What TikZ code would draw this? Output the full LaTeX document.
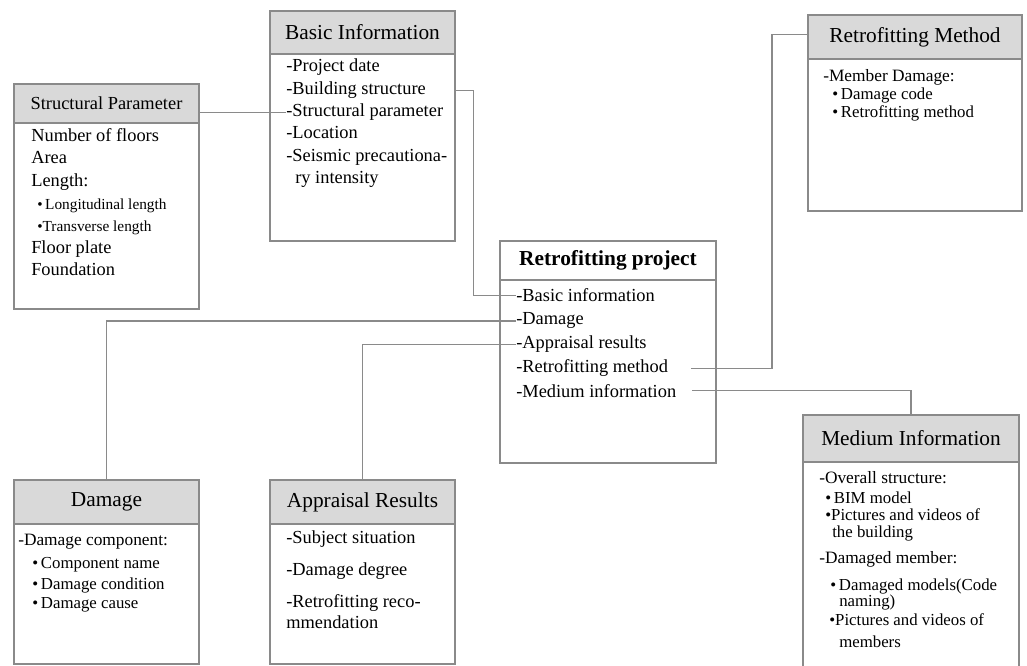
\documentclass[tikz,border=0pt]{standalone}
\usepackage{fontspec}
\setmainfont{Liberation Serif}
\usetikzlibrary{fit}
\definecolor{bordc}{HTML}{8A8A8A}
\definecolor{hdrc}{HTML}{D9D9D9}
\newcommand{\fcolon}{:\hspace{0.45em}}
\begin{document}
\begin{tikzpicture}[x=0.75pt,y=-0.75pt,
  frame/.style={draw=bordc, line width=0.9pt, inner sep=0pt},
  hdr/.style={frame, fill=hdrc},
  ttl/.style={inner sep=0pt, font=\fontsize{16}{19}\selectfont},
  conn/.style={draw=bordc, line width=0.9pt},
  txt/.style={anchor=base west, inner sep=0pt, font=\fontsize{13.8}{16}\selectfont},
  txtb/.style={txt, font=\fontsize{13}{15}\selectfont},
  sm/.style={txt, font=\fontsize{11.5}{14}\selectfont},
  bl/.style={txt, font=\fontsize{12.6}{15}\selectfont}]
\clip (0,0) rectangle (1027,666);
\fill[white] (0,0) rectangle (1027,666);

% Structural Parameter
\node[frame, fit={(14,84)(199,309)}] (sp) {};
\node[hdr, fit={(14,84)(199,123)}] (sph) {};
\node[ttl, font=\fontsize{13.8}{16}\selectfont] (spt) at (sph.center) {Structural Parameter};
\node[txt] (sp1) at (31,142) {Number of floors};
\node[txt] (sp2) at (31,164) {Area};
\node[txt] (sp3) at (31,187) {Length\fcolon};
\node[sm] (sp4) at (37,210) {\textbullet\,Longitudinal length};
\node[sm] (sp5) at (37,232) {\textbullet Transverse length};
\node[txt] (sp6) at (31,254) {Floor plate};
\node[txt] (sp7) at (31,276) {Foundation};

% Basic Information
\node[frame, fit={(270,11)(455,241)}] (bi) {};
\node[hdr, fit={(270,11)(455,54)}] (bih) {};
\node[ttl] (bit) at (bih.center) {Basic Information};
\node[txt] (bi1) at (286,72) {-Project date};
\node[txt] (bi2) at (286,95) {-Building structure};
\node[txt] (bi3) at (286,117) {-Structural parameter};
\node[txt] (bi4) at (286,139) {-Location};
\node[txt] (bi5) at (286,162) {-Seismic precautiona-};
\node[txt] (bi6) at (295,184) {ry intensity};

% Retrofitting project
\node[frame, fit={(500,241)(716,463)}] (rp) {};
\node[frame, fit={(500,241)(716,280)}] (rph) {};
\node[ttl, font=\bfseries\fontsize{16}{19}\selectfont] (rpt) at (rph.center) {Retrofitting project};
\node[txt] (rp1) at (516,302) {-Basic information};
\node[txt] (rp2) at (516,325) {-Damage};
\node[txt] (rp3) at (516,349) {-Appraisal results};
\node[txt] (rp4) at (516,373) {-Retrofitting method};
\node[txt] (rp5) at (516,397) {-Medium information};

% Retrofitting Method
\node[frame, fit={(808,15)(1022,211)}] (rm) {};
\node[hdr, fit={(808,15)(1022,59)}] (rmh) {};
\node[ttl] (rmt) at (rmh.center) {Retrofitting Method};
\node[txtb] (rm1) at (823,82) {-Member Damage\fcolon};
\node[bl] (rm2) at (832,100) {\textbullet\,Damage code};
\node[bl] (rm3) at (832,118) {\textbullet\,Retrofitting method};

% Damage
\node[frame, fit={(14,480)(199,664)}] (dm) {};
\node[hdr, fit={(14,480)(199,524)}] (dmh) {};
\node[ttl] (dmt) at (dmh.center) {Damage};
\node[txtb] (dm1) at (18,545) {-Damage component\fcolon};
\node[bl] (dm2) at (32,568) {\textbullet\,Component name};
\node[bl] (dm3) at (32,589) {\textbullet\,Damage condition};
\node[bl] (dm4) at (32,608) {\textbullet\,Damage cause};

% Appraisal Results
\node[frame, fit={(270,480)(455,664)}] (ar) {};
\node[hdr, fit={(270,480)(455,524)}] (arh) {};
\node[ttl] (art) at (arh.center) {Appraisal Results};
\node[txt] (ar1) at (286,543) {-Subject situation};
\node[txt] (ar2) at (286,575) {-Damage degree};
\node[txt] (ar3) at (286,607) {-Retrofitting reco-};
\node[txt] (ar4) at (286,628) {mmendation};

% Medium Information
\node[frame, fit={(803,415)(1019,700)}] (mi) {};
\node[hdr, fit={(803,415)(1019,462)}] (mih) {};
\node[ttl] (mit) at (mih.center) {Medium Information};
\node[txtb] (mi1) at (819,483) {-Overall structure\fcolon};
\node[bl] (mi2) at (825,503) {\textbullet\,BIM model};
\node[bl] (mi3) at (825,520) {\textbullet Pictures and videos of};
\node[bl] (mi4) at (832,537) {the building};
\node[txtb] (mi5) at (819,563) {-Damaged member\fcolon};
\node[bl] (mi6) at (830,590) {\textbullet\,Damaged models(Code};
\node[bl] (mi7) at (839,606) {naming)};
\node[bl] (mi8) at (829,625) {\textbullet Pictures and videos of};
\node[bl] (mi9) at (839,647) {members};

% Connectors
\draw[conn] (sp.east |- bi3.west) -- (bi3.west);
\draw[conn] (bi.east |- bi2.west) -- ++(18,0) |- (rp1.west);
\draw[conn] (rp2.west) -| (dm.north);
\draw[conn] (rp3.west) -| (ar.north);
\path (rp4.west) ++(175,0) coordinate (rmout);
\path (rp5.west) ++(176,0) coordinate (miout);
\draw[conn] (rmout) -- ++(81,0) |- ([yshift=2pt]rmh.west);
\draw[conn] (miout) -| (mih.north);
\end{tikzpicture}
\end{document}
